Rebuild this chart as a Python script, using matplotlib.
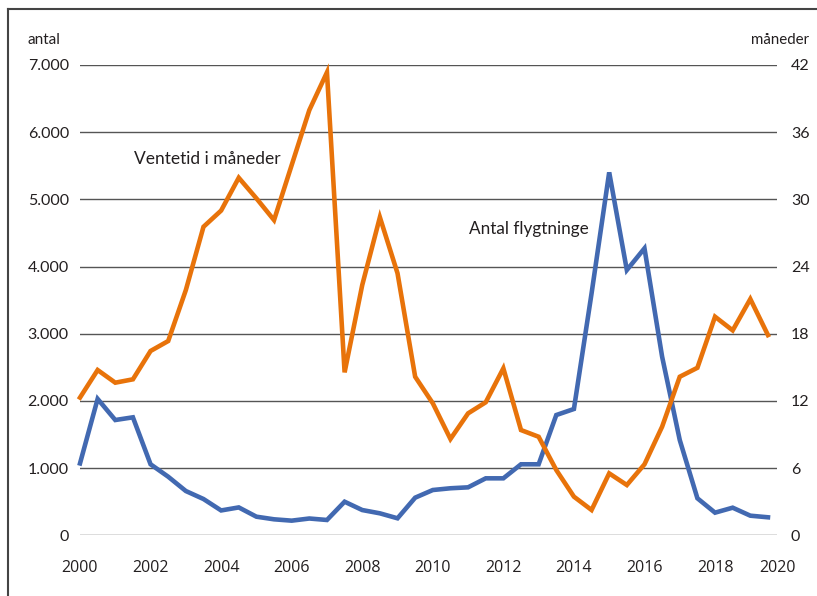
import matplotlib
matplotlib.use("Agg")
import matplotlib.pyplot as plt
from matplotlib.lines import Line2D
from matplotlib.ticker import FuncFormatter

# Data: half-yearly observations 2000 - 2019.5
years = [2000 + 0.5 * i for i in range(40)]
antal_flygtninge = [1070, 2030, 1716, 1756, 1057, 872, 659, 540, 370, 415,
                    277, 238, 218, 250, 228, 500, 376, 327, 253, 560,
                    674, 700, 714, 848, 848, 1057, 1057, 1790, 1880, 3600,
                    5402, 3948, 4271, 2658, 1418, 551, 337, 411, 292, 268]
ventetid_maaneder = [12.3, 14.76, 13.63, 13.93, 16.46, 17.35, 21.9, 27.55, 29.0, 31.93,
                     30.09, 28.15, 33.06, 37.97, 41.34, 14.55, 22.35, 28.4, 23.4, 14.16,
                     11.79, 8.6, 10.89, 11.88, 14.91, 9.4, 8.8, 5.83, 3.45, 2.26,
                     5.53, 4.49, 6.34, 9.7, 14.16, 14.96, 19.52, 18.3, 21.1, 17.88]
left_ticks = [0, 1000, 2000, 3000, 4000, 5000, 6000, 7000]
right_ticks = [0, 6, 12, 18, 24, 30, 36, 42]
x_tick_labels = ["2000", "2002", "2004", "2006", "2008", "2010", "2012", "2014", "2016", "2018", "2020"]

BLUE = "#4269B1"
ORANGE = "#E8730A"
TXT = "#231F20"

plt.rcParams['font.family'] = ['Lato', 'DejaVu Sans']

W, H = 817, 596
fig = plt.figure(figsize=(W / 100, H / 100), dpi=100)
ax = fig.add_axes([80 / W, 1 - 535.3 / H, (777 - 80) / W, (535.3 - 65) / H])
ax2 = ax.twinx()

xmax = 2000 + (777 - 80) / 35.28
ax.set_xlim(2000, xmax)
ax.set_ylim(0, 7000)
ax2.set_ylim(0, 42)

ax.set_yticks(left_ticks)
ax.yaxis.set_major_formatter(FuncFormatter(lambda v, p: f"{int(v):,}".replace(",", ".")))
ax2.set_yticks(right_ticks)

xt = list(range(2000, 2019, 2)) + [xmax]
ax.set_xticks(xt)
ax.set_xticklabels(x_tick_labels, fontfamily=['Open Sans', 'DejaVu Sans'])

for y in left_ticks:
    ax.axhline(y, color="#555555", lw=1.0, zorder=1)

ax.plot(years, antal_flygtninge, color=BLUE, lw=3.3, zorder=3, solid_joinstyle='miter', clip_on=False)
ax2.plot(years, ventetid_maaneder, color=ORANGE, lw=3.3, zorder=3, solid_joinstyle='miter', clip_on=False)

for a in (ax, ax2):
    for s in a.spines.values():
        s.set_visible(False)
    a.tick_params(length=0, labelsize=11.5, colors=TXT)
ax.tick_params(axis='y', pad=8)
ax2.tick_params(axis='y', pad=10)
ax.tick_params(axis='x', pad=18, labelsize=11.5)

fig.text(27 / W, 1 - 40 / H, "antal", fontsize=11, color=TXT, va='center', ha='left')
fig.text(809 / W, 1 - 40 / H, "måneder", fontsize=10.8, color=TXT, va='center', ha='right')
fig.text(134 / W, 1 - 159 / H, "Ventetid i måneder", fontsize=12.5, color=TXT, va='center', ha='left')
fig.text(469 / W, 1 - 229 / H, "Antal flygtninge", fontsize=12.3, color=TXT, va='center', ha='left')

fig.add_artist(Line2D([7.5 / W, 7.5 / W], [0, 1 - 9 / H], transform=fig.transFigure, color="#444444", lw=1.5))
fig.add_artist(Line2D([7.5 / W, 1], [1 - 9 / H, 1 - 9 / H], transform=fig.transFigure, color="#444444", lw=1.5))

fig.savefig("out.png", dpi=100)
